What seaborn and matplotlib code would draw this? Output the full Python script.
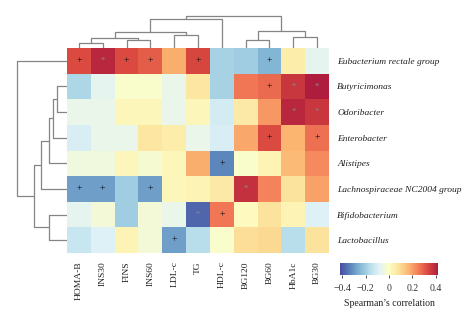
import numpy as np
import pandas as pd
import matplotlib
matplotlib.use("Agg")
import matplotlib.pyplot as plt
from matplotlib.colors import ListedColormap
import seaborn as sns

# ---------------- data ----------------
rows = ["Eubacterium rectale group", "Butyricimonas", "Odoribacter", "Enterobacter",
        "Alistipes", "Lachnospiraceae NC2004 group", "Bifidobacterium", "Lactobacillus"]
cols = ["HOMA-B", "INS30", "FINS", "INS60", "LDL-c", "TG", "HDL-c",
        "BG120", "BG60", "HbA1c", "BG30"]

eubacterium     = [0.33, 0.40, 0.33, 0.30, 0.18, 0.34, -0.19, -0.20, -0.25, 0.05, -0.07]
butyricimonas   = [-0.18, -0.07, -0.01, -0.01, -0.06, 0.07, -0.19, 0.26, 0.28, 0.37, 0.42]
odoribacter     = [-0.06, -0.06, 0.02, 0.02, -0.06, 0.02, -0.11, 0.06, 0.21, 0.40, 0.37]
enterobacter    = [-0.10, -0.06, -0.06, 0.07, 0.05, -0.06, -0.10, 0.19, 0.33, 0.17, 0.27]
alistipes       = [-0.04, -0.04, 0.02, -0.02, 0.02, 0.18, -0.33, -0.01, 0.03, 0.16, 0.23]
lachnospiraceae = [-0.29, -0.29, -0.20, -0.29, 0.02, 0.03, 0.06, 0.38, 0.24, 0.08, 0.20]
bifidobacterium = [-0.07, -0.03, -0.20, -0.03, -0.06, -0.38, 0.26, 0.01, 0.08, 0.03, -0.09]
lactobacillus   = [-0.13, -0.09, 0.03, -0.03, -0.29, -0.16, -0.01, 0.09, 0.10, -0.16, 0.08]

sig_eubacterium     = ["+", "*", "+", "+", "", "+", "", "", "+", "", ""]
sig_butyricimonas   = ["", "", "", "", "", "", "", "", "+", "*", "*"]
sig_odoribacter     = ["", "", "", "", "", "", "", "", "", "*", "*"]
sig_enterobacter    = ["", "", "", "", "", "", "", "", "+", "", "+"]
sig_alistipes       = ["", "", "", "", "", "", "+", "", "", "", ""]
sig_lachnospiraceae = ["+", "+", "", "+", "", "", "", "*", "", "", ""]
sig_bifidobacterium = ["", "", "", "", "", "*", "+", "", "", "", ""]
sig_lactobacillus   = ["", "", "", "", "+", "", "", "", "", "", ""]

# hierarchical merges: (cluster a, cluster b, height) ; leaves in display order
col_merges = [(0, 1, 4.7), (2, 3, 8.0), (7, 8, 8.0), (11, 12, 10.3), (9, 10, 10.7),
              (4, 5, 13.0), (14, 16, 16.3), (13, 15, 17.0), (17, 6, 28.7), (19, 18, 32.0)]
row_merges = [(1, 2, 9.7), (8, 3, 13.7), (9, 4, 18.0), (6, 7, 18.0),
              (10, 5, 26.3), (12, 11, 32.7), (0, 13, 50.3)]

colorbar_ticks = [-0.4, -0.2, 0, 0.2, 0.4]
colorbar_ticklabels = ["\u22120.4", "\u22120.2", "0", "0.2", "0.4"]

# ---------------- build ----------------
corr = pd.DataFrame([eubacterium, butyricimonas, odoribacter, enterobacter,
                     alistipes, lachnospiraceae, bifidobacterium, lactobacillus],
                    index=rows, columns=cols)
sig = np.array([sig_eubacterium, sig_butyricimonas, sig_odoribacter, sig_enterobacter,
                sig_alistipes, sig_lachnospiraceae, sig_bifidobacterium, sig_lactobacillus])

sns.set_style("white")
plt.rcParams["font.family"] = ["Liberation Serif", "DejaVu Serif"]

# slightly muted RdYlBu_r
base = plt.get_cmap("RdYlBu_r")(np.linspace(0, 1, 256))[:, :3]
grey = np.array([0.94, 0.94, 0.93])
muted = base * 0.88 + grey * 0.12
cmap = ListedColormap(muted)

W, H = 474, 330
fig = plt.figure(figsize=(W / 100, H / 100), dpi=100)

def px_axes(x0, y0, x1, y1):
    return fig.add_axes([x0 / W, 1 - y1 / H, (x1 - x0) / W, (y1 - y0) / H])

hx0, hy0, hx1, hy1 = 67, 48, 329, 253
ax = px_axes(hx0, hy0, hx1, hy1)
cax = px_axes(340, 263, 438, 275)
ax_top = px_axes(hx0, 15, hx1, hy0)
ax_left = px_axes(14, hy0, hx0, hy1)

vmin, vmax = -0.42, 0.42
sns.heatmap(corr, ax=ax, cmap=cmap, vmin=vmin, vmax=vmax,
            annot=sig, fmt="", annot_kws={"fontsize": 7},
            cbar=True, cbar_ax=cax, cbar_kws={"orientation": "horizontal",
                                              "ticks": colorbar_ticks})
for t in ax.texts:
    if t.get_text() == "*":
        t.set_color("#8a8a8a")
        t.set_fontsize(6)
    else:
        t.set_color("#111111")

ax.yaxis.tick_right()
ax.set_yticks(np.arange(len(rows)) + 0.5)
ax.set_yticklabels(rows, rotation=0, fontsize=6.8, fontstyle="italic", color="#222222")
ax.set_xticks(np.arange(len(cols)) + 0.5)
ax.set_xticklabels(cols, rotation=90, fontsize=6.8, color="#222222")
ax.tick_params(axis="y", length=0, pad=6)
ax.tick_params(axis="x", length=0, pad=6)
ax.set_xlabel("")
ax.set_ylabel("")

cax.set_xticklabels(colorbar_ticklabels)
cax.tick_params(axis="x", length=2.5, width=0.6, pad=4, labelsize=7, colors="#333333")
cax.set_xlabel("Spearman\u2019s correlation", fontsize=7, color="#222222", labelpad=4)
for s in cax.spines.values():
    s.set_visible(False)


def draw_dendro(axd, merges, n, orient):
    pos = {i: i + 0.5 for i in range(n)}
    hgt = {i: 0.0 for i in range(n)}
    for k, (a, b, h) in enumerate(merges):
        xa, xb = pos[a], pos[b]
        ha, hb = hgt[a], hgt[b]
        xs = [xa, xa, xb, xb]
        ys = [ha, h, h, hb]
        if orient == "top":
            axd.plot(xs, ys, color="#858585", lw=0.9, solid_capstyle="butt")
        else:
            axd.plot(ys, xs, color="#858585", lw=0.9, solid_capstyle="butt")
        pos[n + k] = (xa + xb) / 2
        hgt[n + k] = h
    axd.set_axis_off()


draw_dendro(ax_top, col_merges, len(cols), "top")
ax_top.set_xlim(0, len(cols))
ax_top.set_ylim(0, 33)

draw_dendro(ax_left, row_merges, len(rows), "left")
ax_left.set_ylim(len(rows), 0)
ax_left.set_xlim(53, 0)

fig.savefig("out.png", dpi=100)
